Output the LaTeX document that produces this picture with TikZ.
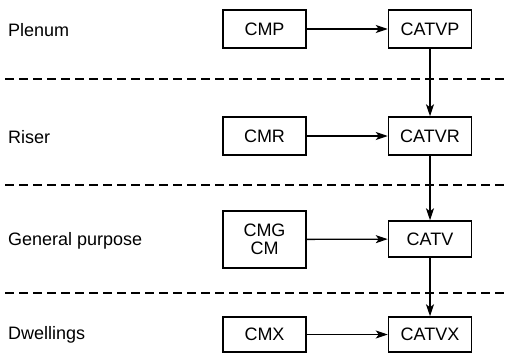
\documentclass[tikz,border=0pt]{standalone}
\usepackage{fontspec}
\setmainfont{Liberation Sans}
\usetikzlibrary{arrows.meta}
\begin{document}
\begin{tikzpicture}[x=1pt,y=-1pt,
  box/.style={draw,line width=1.5pt,minimum width=83pt,inner sep=0pt,align=center,font=\fontsize{18}{18}\selectfont},
  lbl/.style={anchor=west,inner sep=0pt,font=\fontsize{18}{18}\selectfont},
  sep/.style={line width=1.2pt,dash pattern=on 9pt off 5pt},
  arr/.style={line width=1.3pt,-{Stealth[length=12pt,width=8pt,inset=3pt]}}]
\useasboundingbox (0,0) rectangle (508,353);
\node[box,minimum height=38pt] (cmp) at (264.5,29) {CMP};
\node[box,minimum height=38pt] (catvp) at (430,29) {CATVP};
\node[box,minimum height=38pt] (cmr) at (264.5,136) {CMR};
\node[box,minimum height=38pt] (catvr) at (430,136) {CATVR};
\node[box,minimum height=57pt] (cmg) at (264.5,239.5) {CMG\\CM};
\node[box,minimum height=36pt] (catv) at (430,239) {CATV};
\node[box,minimum height=35pt] (cmx) at (264.5,334.5) {CMX};
\node[box,minimum height=35pt] (catvx) at (430,334.5) {CATVX};
\node[lbl] (l1) at (8,30) {Plenum};
\node[lbl] (l2) at (8,137) {Riser};
\node[lbl] (l3) at (8,241) {General purpose};
\node[lbl] (l4) at (8,335) {Dwellings};
\coordinate (d1a) at (5,79); \coordinate (d1b) at (508,79);
\coordinate (d2a) at (5,185); \coordinate (d2b) at (508,185);
\coordinate (d3a) at (5,293); \coordinate (d3b) at (508,293);
\draw[sep] (d1a) -- (d1b);
\draw[sep] (d2a) -- (d2b);
\draw[sep] (d3a) -- (d3b);
\draw[arr] (cmp) -- (catvp);
\draw[arr] (cmr) -- (catvr);
\draw[arr] (cmg) -- (catv);
\draw[arr] (cmx) -- (catvx);
\draw[arr] (catvp) -- (catvr);
\draw[arr] (catvr) -- (catv);
\draw[arr] (catv) -- (catvx);
\end{tikzpicture}
\end{document}
